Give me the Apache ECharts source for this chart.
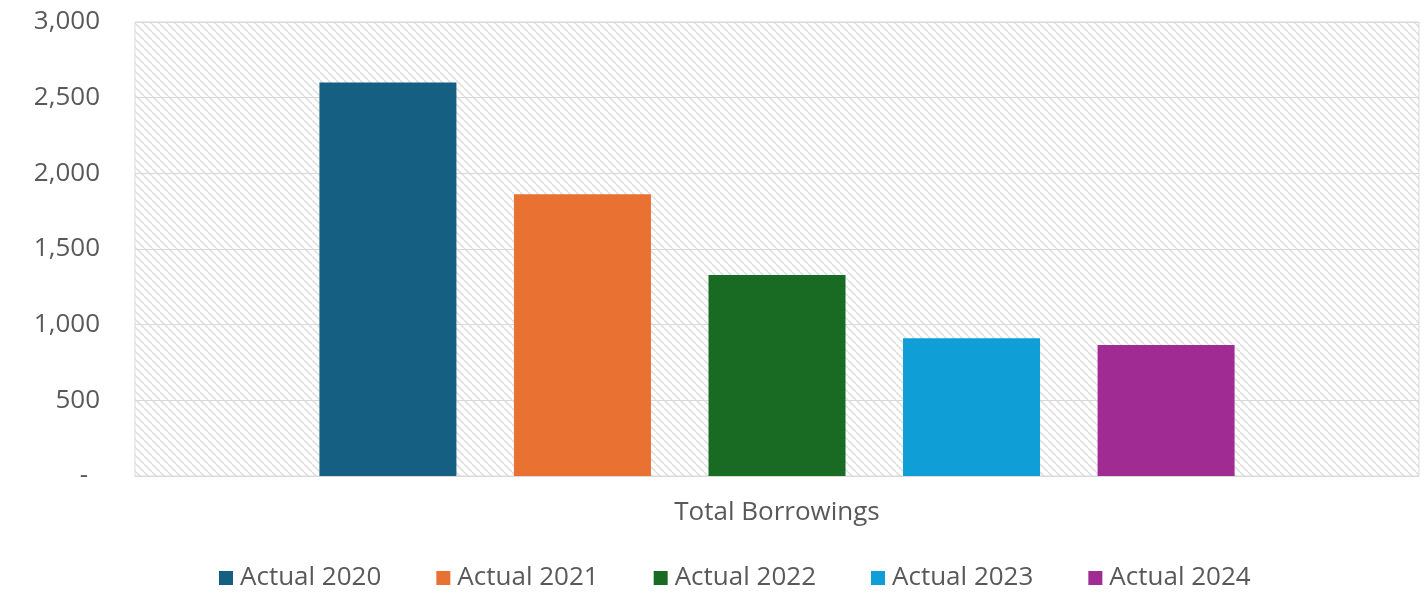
<!DOCTYPE html>
<html>
<head>
<meta charset="utf-8">
<script src="https://cdn.jsdelivr.net/npm/echarts@6/dist/echarts.min.js"></script>
<style>
  html, body { margin: 0; padding: 0; background: #ffffff; }
  #chart { width: 1428px; height: 593px; }
</style>
</head>
<body>
<div id="chart"></div>
<script>
// Total borrowings by year
const categories = ['Total Borrowings'];
const seriesNames = ['Actual 2020', 'Actual 2021', 'Actual 2022', 'Actual 2023', 'Actual 2024'];
const seriesValues = [2600, 1862, 1328, 910, 865];
const seriesColors = ['#156082', '#E97132', '#196B24', '#0F9ED5', '#A02B93'];

const textColor = '#595959';
const fontFamily = '"Open Sans", "Liberation Sans", Arial, sans-serif';

// Diagonal hatch fill for the plot area
function makeHatch() {
  const s = 8;
  const c = document.createElement('canvas');
  c.width = s; c.height = s;
  const ctx = c.getContext('2d');
  ctx.fillStyle = '#ffffff';
  ctx.fillRect(0, 0, s, s);
  ctx.strokeStyle = '#e0e0e0';
  ctx.lineWidth = 1.6;
  ctx.beginPath();
  for (let k = -1; k <= 1; k++) {
    ctx.moveTo(k * s, 0);
    ctx.lineTo(k * s + s, s);
  }
  ctx.stroke();
  return c;
}

const chart = echarts.init(document.getElementById('chart'), null, { renderer: 'canvas' });

chart.setOption({
  animation: false,
  backgroundColor: '#ffffff',
  textStyle: { fontFamily: fontFamily },
  grid: {
    left: 135, right: 9, top: 22, bottom: 117,
    show: true,
    backgroundColor: { image: makeHatch(), repeat: 'repeat' },
    borderColor: '#d9d9d9',
    borderWidth: 1
  },
  legend: {
    top: 560,
    left: 214,
    itemWidth: 14,
    itemHeight: 14,
    itemGap: 55,
    icon: 'rect',
    textStyle: { color: textColor, fontSize: 26, fontFamily: fontFamily, padding: [0, 0, 0, 2] },
    data: seriesNames
  },
  xAxis: {
    type: 'category',
    data: categories,
    axisTick: { show: false },
    axisLine: { lineStyle: { color: '#d9d9d9' } },
    axisLabel: { color: textColor, fontSize: 26, margin: 24, fontFamily: fontFamily }
  },
  yAxis: {
    type: 'value',
    min: 0,
    max: 3000,
    interval: 500,
    axisLine: { show: false },
    axisTick: { show: false },
    splitLine: { lineStyle: { color: '#d9d9d9', width: 1 } },
    axisLabel: {
      color: textColor,
      fontSize: 26,
      margin: 35,
      fontFamily: fontFamily,
      formatter: function (v) {
        return v === 0 ? '{dash|-}' : v.toLocaleString('en-US');
      },
      rich: {
        dash: { color: textColor, fontSize: 26, fontFamily: fontFamily, padding: [0, 12, 0, 0] }
      }
    }
  },
  series: seriesNames.map(function (name, i) {
    return {
      name: name,
      type: 'bar',
      data: [seriesValues[i]],
      barWidth: 137,
      barGap: '42%',
      itemStyle: { color: seriesColors[i] }
    };
  })
});
</script>
</body>
</html>
